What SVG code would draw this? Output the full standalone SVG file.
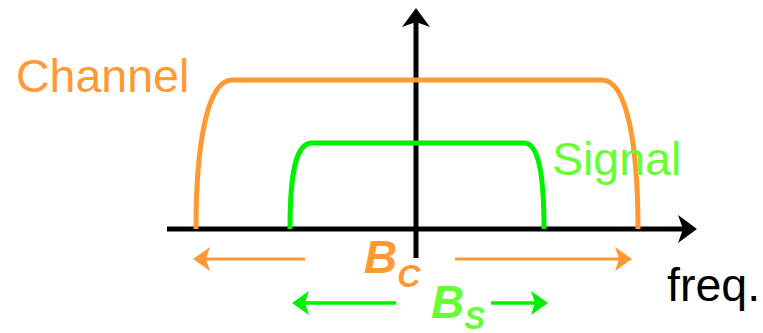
<svg xmlns="http://www.w3.org/2000/svg" width="763" height="333" viewBox="0 0 763 333">
<style>
text{font-family:"Liberation Sans",Arial,sans-serif;}
.lbl{font-size:46.5px;}
.bi{font-weight:bold;font-style:italic;}
.axis{stroke:#000;stroke-width:5;fill:none;}
.ch{stroke:#FF9933;stroke-width:5;fill:none;}
.sg{stroke:#00F000;stroke-width:5;fill:none;}
.oa{stroke:#FF9933;stroke-width:3;fill:none;}
.ga{stroke:#00F000;stroke-width:3.5;fill:none;}
</style>
<defs>
<marker id="mk" viewBox="-22 -16 24 32" markerWidth="24" markerHeight="32" refX="-6" refY="0" orient="auto" markerUnits="userSpaceOnUse" overflow="visible">
<path d="M0,0 L-19,-14 L-14,0 L-19,14 Z" fill="#000"/>
</marker>
<marker id="mo" viewBox="-22 -16 24 32" markerWidth="24" markerHeight="32" refX="-6" refY="0" orient="auto" markerUnits="userSpaceOnUse" overflow="visible">
<path d="M0,0 L-17,-12 L-13,0 L-17,12 Z" fill="#FF9933"/>
</marker>
<marker id="mg" viewBox="-22 -16 24 32" markerWidth="24" markerHeight="32" refX="-6" refY="0" orient="auto" markerUnits="userSpaceOnUse" overflow="visible">
<path d="M0,0 L-17,-12 L-13,0 L-17,12 Z" fill="#00F000"/>
</marker>
</defs>
<g id="axes">
<line class="axis" x1="416" y1="258" x2="416" y2="14" marker-end="url(#mk)"/>
<line class="axis" x1="167" y1="229" x2="691" y2="229" marker-end="url(#mk)"/>
</g>
<g id="channel">
<path class="ch" d="M196,229 C196,150 206,80 232,80 L602,80 C628,80 638,150 638,229"/>
<text class="lbl" x="16" y="92" fill="#FF9933">Channel</text>
</g>
<g id="signal">
<path class="sg" d="M290,229 C290,172 296,143 312,143 L524,143 C538,143 544,172 544,229"/>
<text class="lbl" x="552" y="175" fill="#66FF33">Signal</text>
</g>
<g id="freq">
<text class="lbl" x="667" y="301" fill="#000">freq.</text>
</g>
<g id="bc">
<text class="bi" x="364" y="273" fill="#FF9933" font-size="46">B<tspan font-size="32" dy="14">C</tspan></text>
</g>
<g id="bs">
<text class="bi" x="431" y="318" fill="#66FF33" font-size="46">B<tspan font-size="31" dy="11">S</tspan></text>
</g>
<g id="connectors">
<line class="oa" x1="305" y1="259" x2="199" y2="259" marker-end="url(#mo)"/>
<line class="oa" x1="455" y1="259" x2="626" y2="259" marker-end="url(#mo)"/>
<line class="ga" x1="396" y1="303" x2="298" y2="303" marker-end="url(#mg)"/>
<line class="ga" x1="491" y1="303" x2="542" y2="303" marker-end="url(#mg)"/>
</g>
</svg>
